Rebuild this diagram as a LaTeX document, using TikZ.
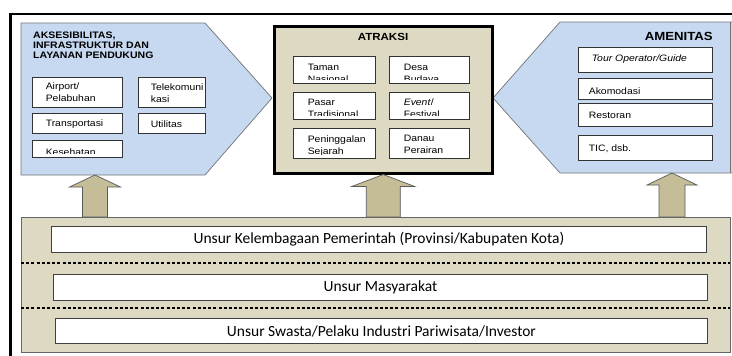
\documentclass[tikz,border=0pt]{standalone}
\usepackage{fontspec}
\setmainfont[FakeStretch=1.12]{Liberation Sans}
\newfontfamily\calibri{Carlito}
\usetikzlibrary{calc,positioning}

\definecolor{paleblue}{HTML}{C6D9F1}
\definecolor{sand}{HTML}{DDD9C3}
\definecolor{khaki}{HTML}{C4BD97}

\tikzset{
  frame/.style={line width=2.6pt},
  pent/.style={draw=black!55, fill=paleblue, line width=0.7pt},
  atrbox/.style={draw=black, fill=sand, line width=2.5pt, anchor=north west, inner sep=0pt},
  panel/.style={draw=black!60, fill=sand, line width=0.9pt, anchor=north west, inner sep=0pt},
  upblock/.style={draw=black!65, fill=khaki, line width=0.7pt},
  sep/.style={line width=2pt, dash pattern=on 3pt off 2.2pt},
  wbox/.style={draw=black!80, fill=white, line width=0.8pt, anchor=north west, inner sep=0pt},
  boxtext/.style={font=\fontsize{9.3}{12}\selectfont, align=left, inner sep=0pt, anchor=north west,
    minimum width=0pt, minimum height=0pt, draw=none, fill=none},
  ttl/.style={font=\bfseries\fontsize{9.4}{10.2}\selectfont, align=left, inner sep=0pt},
  rowbox/.style={draw=black!75, fill=white, line width=0.9pt, anchor=north west, inner sep=0pt,
    font=\calibri\fontsize{15.5}{18}\selectfont},
  clipbox/.style n args={3}{wbox, path picture={
    \clip (path picture bounding box.north west) rectangle ($(path picture bounding box.south east)+(0,-4)$);
    \node[boxtext] at ($(path picture bounding box.north west)+(#1,#2)$) {#3};}},
}

\begin{document}
\begin{tikzpicture}[x=1pt,y=-1pt]
\useasboundingbox (0,0) rectangle (732,356);
\clip (0,0) rectangle (732,356);

\draw[frame] (10.5,13.8) rectangle (760,400);

% side shapes
\draw[pent] (21,23) -- (205,23) -- (272,98) -- (205,175) -- (21,175) -- cycle;
\draw[pent] (732,22) -- (560,22) -- (493,98) -- (560,173) -- (732,173);
\draw[black!55, line width=0.7pt] (730,22) -- (730,173);
\coordinate (acc-s) at (95,175);
\coordinate (amen-s) at (672,173);

\node[atrbox, minimum width=218, minimum height=147] (atraksi) at (273,25) {};

% titles
\node[ttl, anchor=north west] (acctitle) at (33,31.5) {AKSESIBILITAS,\\INFRASTRUKTUR DAN\\LAYANAN PENDUKUNG};
\node[ttl, font=\bfseries\fontsize{10.3}{13}\selectfont, anchor=base] (atrtitle) at (383,41) {ATRAKSI};
\node[ttl, font=\bfseries\fontsize{11.8}{14}\selectfont, anchor=base east] (amentitle) at (713,41) {AMENITAS};

\begin{scope}
\def\acc{air/32/77/90/30/13/4.5/{Airport/\\Pelabuhan}, tel/138/77/67/30/12/5.5/{Telekomuni\\kasi},
  trans/32/113/90/20/13/6/{Transportasi}, util/138/113/67/20/12/6.5/{Utilitas},
  kes/32/140/90/17/13/8/{Kesehatan}}
\foreach \n/\x/\y/\w/\h/\dx/\dy/\t in \acc
  \node[clipbox={\dx}{\dy}{\t}, minimum width=\w, minimum height=\h] (\n) at (\x,\y) {};
\end{scope}

\begin{scope}
\def\atr{tn/293/56/82/27/14/7/{Taman\\Nasional}, db/389/56/80/27/14/7/{Desa\\Budaya},
  pt/293/92/82/27/14/6/{Pasar\\Tradisional}, ef/389/92/80/27/14/6/{\textit{Event}/\\Festival},
  ps/293/128/82/30/14/6.5/{Peninggalan\\Sejarah}, dp/389/128/80/30/14/6.5/{Danau\\Perairan}}
\foreach \n/\x/\y/\w/\h/\dx/\dy/\t in \atr
  \node[clipbox={\dx}{\dy}{\t}, minimum width=\w, minimum height=\h] (\n) at (\x,\y) {};
\end{scope}

\begin{scope}
\def\amen{tour/578/47/134/25/13/6.5/{\textit{Tour Operator/Guide}}, ako/578/78/134/21/10/8.5/{Akomodasi},
  res/578/103/134/23/10/8/{Restoran}, tic/578/135/134/25/10/8.5/{TIC, dsb.}}
\foreach \n/\x/\y/\w/\h/\dx/\dy/\t in \amen
  \node[clipbox={\dx}{\dy}{\t}, minimum width=\w, minimum height=\h] (\n) at (\x,\y) {};
\end{scope}

% base panel
\node[panel, minimum width=709, minimum height=135] (pnl) at (21,217) {};

\foreach \tip/\hh/\sh in {acc-s/25.5/12.5, atraksi.south/31.5/17, amen-s/25/13}
  \draw[upblock] (\tip) -- ++(\hh,12) -- ++(\sh-\hh,0) -- ($(\tip |- pnl.north)+(\sh,0)$)
    -- ++(-2*\sh,0) -- ($(\tip)+(-\sh,12)$) -- ++(\sh-\hh,0) -- cycle;

\draw[black!60, line width=0.9pt] (pnl.north west) -- (pnl.north east);

\draw[sep] (21,263) -- (730,263);
\draw[sep] (21,308) -- (730,308);

\def\rows{gov/51/226/655/26/{Unsur Kelembagaan Pemerintah (Provinsi/Kabupaten Kota)},
  mas/53/274/654/26/{Unsur Masyarakat},
  swa/55/318/652/25/{Unsur Swasta/Pelaku Industri Pariwisata/Investor}}
\foreach \n/\x/\y/\w/\h/\t in \rows
  \node[rowbox, minimum width=\w, minimum height=\h] (\n) at (\x,\y) {\t};

\end{tikzpicture}
\end{document}
